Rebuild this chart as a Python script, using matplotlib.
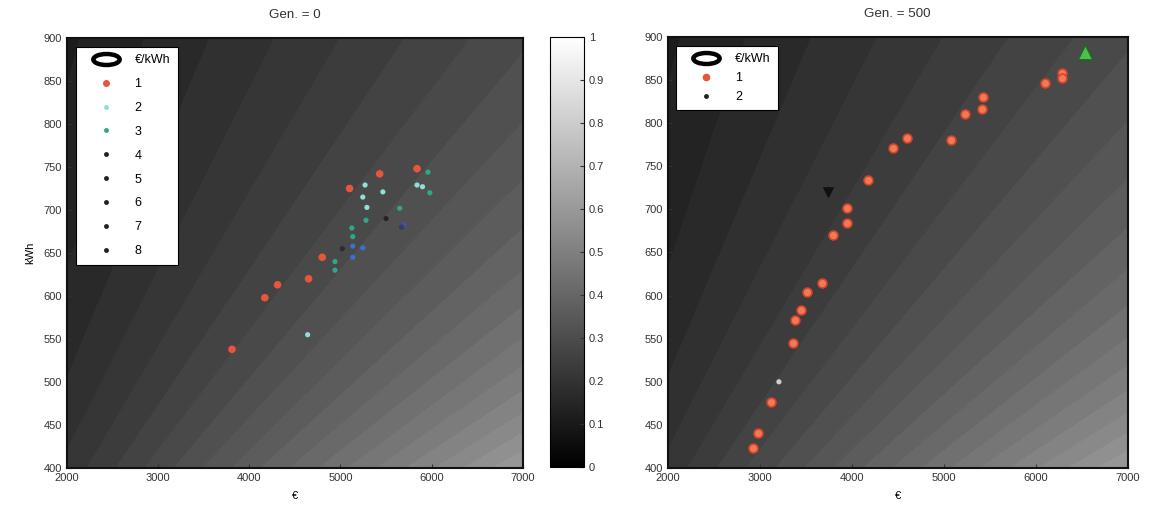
import numpy as np
import matplotlib
matplotlib.use("Agg")
import matplotlib.pyplot as plt
from matplotlib.lines import Line2D
from matplotlib.path import Path
from matplotlib.transforms import Affine2D
from matplotlib.cm import ScalarMappable
from matplotlib.colors import Normalize

plt.rcParams["font.family"] = ["Liberation Sans", "DejaVu Sans"]
plt.rcParams["font.size"] = 8

# ---- data ----
x_ticks = [2000, 3000, 4000, 5000, 6000, 7000]
y_ticks = [400, 450, 500, 550, 600, 650, 700, 750, 800, 850, 900]
cbar_ticks = [0, 0.1, 0.2, 0.3, 0.4, 0.5, 0.6, 0.7, 0.8, 0.9, 1]
cbar_labels = ["0", "0.1", "0.2", "0.3", "0.4", "0.5", "0.6", "0.7", "0.8", "0.9", "1"]

# Gen. = 0, fronts 1..8 (cost in EUR, energy in kWh)
g0_f1_x = [3810, 4170, 4310, 4650, 4800, 5100, 5430, 5840]
g0_f1_y = [538, 598, 613, 620, 645, 725, 742, 748]
g0_f2_x = [5270, 5245, 5290, 5840, 5900, 4640, 5465]
g0_f2_y = [729, 715, 703, 729, 727, 555, 721]
g0_f3_x = [5280, 5125, 5135, 4940, 4940, 5960, 5980, 5650]
g0_f3_y = [688, 679, 669, 640, 630, 744, 720, 702]
g0_f4_x = [5135, 5135, 5245]
g0_f4_y = [658, 645, 656]
g0_f5_x = [5700]
g0_f5_y = [683]
g0_f6_x = [5670]
g0_f6_y = [680]
g0_f7_x = [5020]
g0_f7_y = [655]
g0_f8_x = [5500]
g0_f8_y = [690]

# Gen. = 500
g500_f1_x = [2925, 2980, 3120, 3360, 3380, 3455, 3520, 3675, 3795, 3955, 3955,
             4175, 4445, 4600, 5085, 5230, 5415, 5425, 6100, 6285, 6290]
g500_f1_y = [423, 441, 477, 545, 572, 583, 604, 615, 670, 684, 702,
             734, 771, 783, 781, 811, 816, 830, 847, 858, 852]
g500_f2_x = [3740]
g500_f2_y = [720]
g500_light_x = [3210]
g500_light_y = [500]
g500_best_x = [6535]
g500_best_y = [883]

# EUR/kWh background field, normalised to the colour bar range
ratio_lo, ratio_hi = -1.6, 30.2

front_colors = ["#e8553a", "#8fe0d8", "#2fa88a", "#3a6fd8", "#4a4ab0",
                "#3a3a6a", "#2a2a3a", "#222228"]

fig = plt.figure(figsize=(11.51, 5.12), dpi=100)
ax0 = fig.add_axes([0.0582, 0.0859, 0.396, 0.840])
cax = fig.add_axes([0.478, 0.0879, 0.0295, 0.840])
ax1 = fig.add_axes([0.580, 0.0859, 0.3997, 0.842])

gx, gy = np.meshgrid(np.linspace(2000, 7000, 300), np.linspace(400, 900, 300))
field = (gx / gy - ratio_lo) / (ratio_hi - ratio_lo)
levels = np.linspace(0, 1, 41)

ellipse = Path.unit_circle().transformed(Affine2D().scale(2.4, 1.0))


def setup(ax, title):
    ax.contourf(gx, gy, field, levels=levels, cmap="gray", vmin=0, vmax=1)
    ax.set_xlim(2000, 7000)
    ax.set_ylim(400, 900)
    ax.set_xticks(x_ticks)
    ax.set_yticks(y_ticks)
    ax.tick_params(direction="in", length=3, colors="#333333", labelcolor="#333333")
    for s in ax.spines.values():
        s.set_linewidth(1.5)
        s.set_color("#111111")
    ax.set_title(title, pad=14, color="#333333")
    ax.set_xlabel("€", labelpad=6)


def ratio_handle():
    return Line2D([], [], ls="none", marker=ellipse, markersize=19,
                  markerfacecolor="white", markeredgecolor="black", markeredgewidth=3.2)


# ---- Gen. = 0 ----
setup(ax0, "Gen. = 0")
ax0.set_ylabel("kWh", labelpad=6)
g0_x = [g0_f1_x, g0_f2_x, g0_f3_x, g0_f4_x, g0_f5_x, g0_f6_x, g0_f7_x, g0_f8_x]
g0_y = [g0_f1_y, g0_f2_y, g0_f3_y, g0_f4_y, g0_f5_y, g0_f6_y, g0_f7_y, g0_f8_y]
handles = [ratio_handle()]
labels = ["€/kWh"]
for i, (xs, ys) in enumerate(zip(g0_x, g0_y)):
    size = 30 if i == 0 else 14
    ax0.scatter(xs, ys, s=size, color=front_colors[i], edgecolors="none", zorder=3)
    handles.append(Line2D([], [], ls="none", marker="o",
                          markersize=4 if i == 0 else 2.5,
                          color=front_colors[i] if i < 3 else "#222222"))
    labels.append(str(i + 1))
leg = ax0.legend(handles, labels, loc="upper left", fancybox=False, framealpha=1,
                 edgecolor="black", borderaxespad=0.7, handlelength=3.6,
                 handletextpad=0.5, labelspacing=0.95, borderpad=0.6, fontsize=9)
leg.get_frame().set_linewidth(0.8)

# ---- colour bar ----
cb = fig.colorbar(ScalarMappable(norm=Normalize(0, 1), cmap="gray"), cax=cax)
cb.set_ticks(cbar_ticks)
cb.set_ticklabels(cbar_labels)
cb.ax.tick_params(direction="in", length=3, colors="#333333")
cb.outline.set_linewidth(0.8)

# ---- Gen. = 500 ----
setup(ax1, "Gen. = 500")
ax1.scatter(g500_f1_x, g500_f1_y, s=40, color="#f07a55", edgecolors="#d8442a",
            linewidths=1.2, zorder=3)
ax1.scatter(g500_f2_x, g500_f2_y, s=45, marker="v", color="#111111", zorder=3)
ax1.scatter(g500_light_x, g500_light_y, s=14, color="#cfcfcf", edgecolors="none", zorder=3)
ax1.scatter(g500_best_x, g500_best_y, s=110, marker="^", color="#4cc04c",
            edgecolors="#1d6a1d", linewidths=1, zorder=4)
handles = [ratio_handle(),
           Line2D([], [], ls="none", marker="o", markersize=4.5, color="#e8553a"),
           Line2D([], [], ls="none", marker="o", markersize=2.5, color="#222222")]
leg = ax1.legend(handles, ["€/kWh", "1", "2"], loc="upper left", fancybox=False,
                 framealpha=1, edgecolor="black", borderaxespad=0.7, handlelength=3.6,
                 handletextpad=0.5, labelspacing=0.55, borderpad=0.6, fontsize=9)
leg.get_frame().set_linewidth(0.8)

fig.savefig("out.png", dpi=100)
